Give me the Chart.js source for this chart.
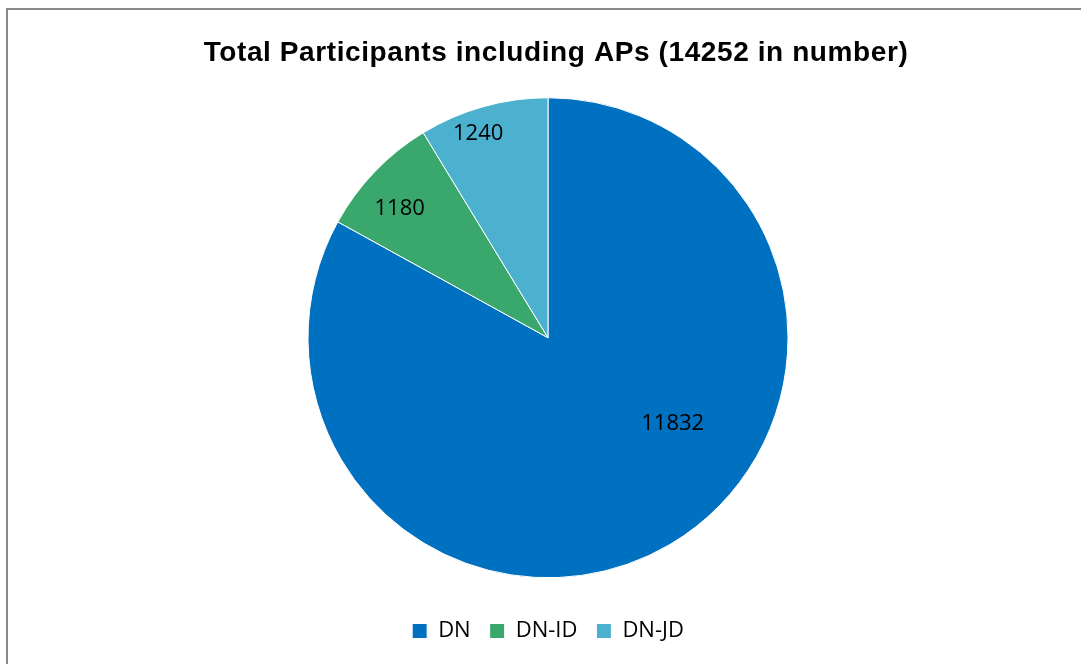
<!DOCTYPE html>
<html>
<head>
<meta charset="utf-8">
<script src="https://cdn.jsdelivr.net/npm/chart.js"></script>
<style>
  html, body { margin: 0; padding: 0; background: #fff; overflow: hidden; }
  body { width: 1081px; height: 664px; position: relative; }
  #wrap { position: absolute; left: 0; top: 0; width: 1115px; height: 664px; }
  #frame { position: absolute; left: 6px; top: 8px; width: 1200px; height: 800px;
           border-left: 2px solid #898989; border-top: 2px solid #898989; pointer-events: none; }
</style>
</head>
<body>
<div id="wrap"><canvas id="pie-chart"></canvas></div>
<div id="frame"></div>
<script>
const categories = ["DN", "DN-ID", "DN-JD"];
const participants = [11832, 1180, 1240];
const sliceColors = ["#0070C0", "#3AA76D", "#4BB1CF"];

// where Excel put each value label: shift from the slice's mid angle (deg) and fraction of radius
const labelAnchors = [
  { shift: -25, frac: 0.63 },
  { shift: -2.7, frac: 0.82 },
  { shift: -3.2, frac: 0.90 }
];

const valueLabels = {
  id: 'valueLabels',
  afterDatasetsDraw(chart) {
    const ctx = chart.ctx;
    const meta = chart.getDatasetMeta(0);
    ctx.save();
    ctx.font = '22px "Open Sans"';
    ctx.fillStyle = '#000';
    ctx.textAlign = 'center';
    ctx.textBaseline = 'middle';
    meta.data.forEach((arc, i) => {
      const p = arc.getProps(['x', 'y', 'startAngle', 'endAngle', 'outerRadius'], true);
      const a = (p.startAngle + p.endAngle) / 2 + labelAnchors[i].shift * Math.PI / 180;
      const r = p.outerRadius * labelAnchors[i].frac;
      ctx.fillText(chart.data.datasets[0].data[i], p.x + Math.cos(a) * r, p.y + Math.sin(a) * r);
    });
    ctx.restore();
  }
};

// the title sits centred on the whole chart, a little right of the pie, and is set slightly loose
const wideTitle = {
  id: 'wideTitle',
  beforeDraw(chart) {
    const block = chart.titleBlock;
    if (!block || block._wide) return;
    const orig = block.draw;
    block.draw = function () {
      chart.ctx.save();
      chart.ctx.letterSpacing = '0.6px';
      chart.ctx.translate(8, 0);
      orig.apply(this, arguments);
      chart.ctx.restore();
    };
    block._wide = true;
  }
};

new Chart(document.getElementById("pie-chart"), {
  type: 'pie',
  data: {
    labels: categories,
    datasets: [{
      data: participants,
      backgroundColor: sliceColors,
      borderColor: '#fff',
      borderWidth: 1,
      radius: 240
    }]
  },
  plugins: [valueLabels, wideTitle],
  options: {
    responsive: true,
    maintainAspectRatio: false,
    animation: false,
    layout: {
      padding: { left: 0, right: 19, top: 0, bottom: 12 }
    },
    plugins: {
      title: {
        display: true,
        text: 'Total Participants including APs (14252 in number)',
        color: '#000',
        font: { family: '"Liberation Sans", Arial, sans-serif', size: 28, weight: 'bold' },
        padding: { top: 36.5, bottom: 4.4 }
      },
      legend: {
        position: 'bottom',
        labels: {
          color: '#000',
          font: { family: '"Open Sans"', size: 22 },
          boxWidth: 15,
          boxHeight: 15,
          padding: 19
        }
      },
      tooltip: { enabled: false }
    }
  }
});
</script>
</body>
</html>
